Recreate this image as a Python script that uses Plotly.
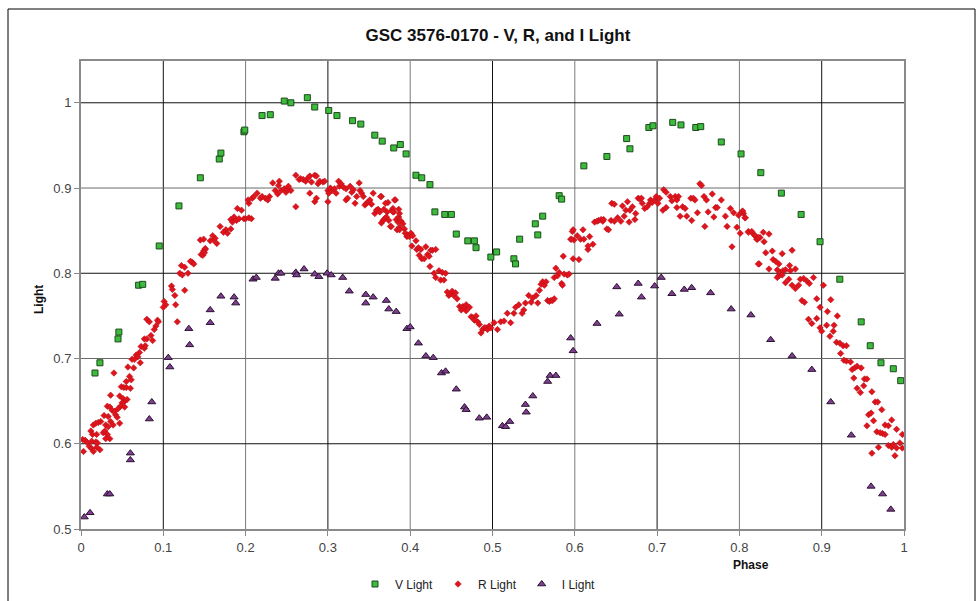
import plotly.graph_objects as go

# ---------------- data ----------------
v_phase = [0.017, 0.023, 0.045, 0.046, 0.070, 0.075, 0.095, 0.119, 0.145, 0.168, 0.170, 0.198, 0.199,
           0.220, 0.230, 0.247, 0.255, 0.275, 0.284, 0.301, 0.311, 0.330, 0.340, 0.357, 0.366, 0.380,
           0.388, 0.395, 0.407, 0.414, 0.424, 0.430, 0.442, 0.450, 0.456, 0.470, 0.478, 0.480, 0.498,
           0.505, 0.526, 0.528, 0.533, 0.552, 0.555, 0.561, 0.581, 0.584, 0.611, 0.639, 0.663, 0.667,
           0.690, 0.695, 0.719, 0.729, 0.747, 0.753, 0.778, 0.802, 0.826, 0.851, 0.875, 0.898, 0.922,
           0.948, 0.959, 0.972, 0.987, 0.996]
v_light = [0.683, 0.695, 0.723, 0.731, 0.786, 0.787, 0.832, 0.879, 0.912, 0.934, 0.941, 0.966, 0.968,
           0.985, 0.986, 1.002, 1.000, 1.006, 0.995, 0.991, 0.985, 0.979, 0.975, 0.962, 0.955, 0.947,
           0.951, 0.940, 0.915, 0.912, 0.904, 0.872, 0.869, 0.869, 0.846, 0.838, 0.838, 0.830, 0.819,
           0.825, 0.817, 0.811, 0.840, 0.858, 0.845, 0.867, 0.891, 0.887, 0.926, 0.937, 0.958, 0.946,
           0.971, 0.973, 0.977, 0.974, 0.971, 0.972, 0.954, 0.940, 0.918, 0.894, 0.869, 0.837, 0.793,
           0.743, 0.715, 0.695, 0.688, 0.674]

r_phase = [
    0.149, 0.151, 0.146, 0.135, 0.133, 0.137, 0.122, 0.126, 0.120, 0.123, 0.130, 0.110, 0.111, 0.114,
    0.126, 0.101, 0.103, 0.100, 0.115, 0.117, 0.080, 0.083, 0.093, 0.094, 0.091, 0.089, 0.077, 0.080,
    0.085, 0.087, 0.073, 0.077, 0.078, 0.071, 0.067, 0.069, 0.062, 0.065, 0.072, 0.057, 0.064, 0.040,
    0.059, 0.055, 0.061, 0.049, 0.052, 0.055, 0.060, 0.036, 0.047, 0.051, 0.053, 0.056, 0.050, 0.048,
    0.053, 0.032, 0.035, 0.038, 0.041, 0.045, 0.042, 0.047, 0.044, 0.028, 0.033, 0.024, 0.021, 0.036,
    0.015, 0.018, 0.030, 0.033, 0.039, 0.012, 0.014, 0.019, 0.027, 0.029, 0.032, 0.035, 0.030, 0.002,
    0.005, 0.007, 0.013, 0.018, 0.020, 0.010, 0.013, 0.019, 0.023, 0.015, 0.003,
    0.145, 0.149, 0.151, 0.148, 0.150, 0.157, 0.161, 0.163, 0.160, 0.165, 0.169, 0.176, 0.173, 0.178,
    0.182, 0.182, 0.186, 0.184, 0.189, 0.192, 0.190, 0.195, 0.198, 0.200, 0.204, 0.207, 0.204, 0.203,
    0.208, 0.210, 0.214, 0.218, 0.220, 0.224, 0.229, 0.227, 0.233, 0.236, 0.239, 0.241, 0.240, 0.243,
    0.247, 0.249, 0.251, 0.252, 0.255, 0.261, 0.265, 0.267, 0.270, 0.273, 0.276, 0.278, 0.280, 0.284,
    0.286, 0.288, 0.290, 0.294, 0.296, 0.261, 0.278, 0.284, 0.286, 0.300, 0.301, 0.300, 0.303, 0.305,
    0.308, 0.310, 0.313, 0.314, 0.316, 0.319, 0.322, 0.322, 0.324, 0.327, 0.329, 0.331, 0.333, 0.335,
    0.338, 0.339, 0.341, 0.343, 0.345, 0.347, 0.349, 0.351, 0.353, 0.355, 0.357, 0.359, 0.361, 0.363,
    0.365, 0.365, 0.367, 0.369, 0.371, 0.373, 0.376, 0.378, 0.380, 0.382, 0.384, 0.386, 0.387,
    0.364, 0.368, 0.370, 0.372, 0.374, 0.377, 0.379, 0.381, 0.379, 0.383, 0.385, 0.386, 0.387, 0.387,
    0.389, 0.391, 0.393, 0.394, 0.396, 0.397, 0.399, 0.401, 0.402, 0.403, 0.407, 0.408, 0.410, 0.411,
    0.413, 0.414, 0.417, 0.419, 0.421, 0.423, 0.425, 0.427, 0.431, 0.424, 0.429, 0.431, 0.435, 0.437,
    0.439, 0.441, 0.443, 0.445, 0.447, 0.449, 0.451, 0.453, 0.455, 0.457, 0.460, 0.462, 0.464, 0.466,
    0.468, 0.468, 0.472, 0.474, 0.476, 0.478, 0.480, 0.482, 0.484, 0.486, 0.488, 0.490, 0.492, 0.494,
    0.496, 0.498, 0.502, 0.506, 0.510, 0.514, 0.518, 0.522, 0.526, 0.528, 0.532, 0.536, 0.538, 0.540,
    0.544, 0.547, 0.549, 0.553, 0.555, 0.557, 0.559, 0.561, 0.563, 0.565, 0.567, 0.569, 0.571, 0.573,
    0.575, 0.575, 0.577, 0.579, 0.581, 0.584, 0.587, 0.591, 0.593, 0.586, 0.595, 0.597, 0.599, 0.598,
    0.585, 0.596, 0.598, 0.603, 0.605, 0.607, 0.610, 0.611, 0.616, 0.616, 0.618, 0.622, 0.624, 0.627,
    0.629, 0.632, 0.634, 0.635, 0.639, 0.641, 0.644, 0.645, 0.648, 0.648, 0.652, 0.656, 0.658, 0.660,
    0.662, 0.664, 0.666, 0.667, 0.670, 0.673, 0.674, 0.677, 0.679, 0.681, 0.682, 0.685, 0.688, 0.691,
    0.692, 0.694, 0.697, 0.699, 0.701, 0.703, 0.707, 0.708, 0.711, 0.711, 0.716, 0.718, 0.722, 0.724,
    0.724, 0.726, 0.728, 0.731, 0.734, 0.736, 0.741, 0.742, 0.744, 0.746, 0.749, 0.752, 0.754, 0.757,
    0.758, 0.760, 0.762, 0.767, 0.769, 0.771, 0.773, 0.778, 0.783, 0.785, 0.789, 0.791, 0.793, 0.797,
    0.799, 0.801, 0.803, 0.805, 0.807, 0.811, 0.816, 0.820, 0.822, 0.824, 0.825,
    0.804, 0.807, 0.811, 0.815, 0.819, 0.821, 0.823, 0.829, 0.830, 0.836, 0.832, 0.840, 0.841, 0.844,
    0.848, 0.852, 0.864, 0.823, 0.836, 0.846, 0.848, 0.850, 0.853, 0.856, 0.861, 0.862, 0.868, 0.846,
    0.852, 0.856, 0.860, 0.864, 0.868, 0.872, 0.874, 0.878, 0.882, 0.885, 0.890, 0.902, 0.876, 0.879,
    0.894, 0.898, 0.911, 0.884, 0.888, 0.894, 0.898, 0.900, 0.907, 0.906, 0.915, 0.914, 0.919, 0.910,
    0.918, 0.922, 0.926, 0.930, 0.923, 0.927, 0.930, 0.935, 0.937, 0.940, 0.943, 0.948, 0.939, 0.952,
    0.955, 0.943, 0.951, 0.961, 0.947, 0.965, 0.968, 0.973, 0.957, 0.960, 0.963, 0.977, 0.981, 0.985,
    0.991, 0.955, 0.967, 0.971, 0.974, 0.977, 0.998, 0.995, 0.981, 0.985, 0.987, 0.991, 0.969, 0.961,
    0.989, 0.998]
r_light = [
    0.826, 0.829, 0.822, 0.813, 0.814, 0.811, 0.809, 0.807, 0.800, 0.798, 0.800, 0.785, 0.781, 0.774,
    0.780, 0.767, 0.763, 0.760, 0.763, 0.743, 0.746, 0.743, 0.745, 0.743, 0.738, 0.734, 0.723, 0.723,
    0.727, 0.721, 0.714, 0.712, 0.715, 0.707, 0.704, 0.702, 0.699, 0.699, 0.695, 0.690, 0.689, 0.683,
    0.679, 0.673, 0.675, 0.667, 0.666, 0.666, 0.665, 0.657, 0.656, 0.653, 0.650, 0.652, 0.648, 0.644,
    0.643, 0.644, 0.643, 0.639, 0.638, 0.641, 0.634, 0.624, 0.631, 0.633, 0.632, 0.626, 0.625, 0.626,
    0.622, 0.624, 0.622, 0.620, 0.622, 0.615, 0.611, 0.611, 0.613, 0.615, 0.611, 0.606, 0.606, 0.605,
    0.604, 0.602, 0.603, 0.602, 0.601, 0.597, 0.594, 0.596, 0.593, 0.591, 0.591,
    0.839, 0.840, 0.828, 0.821, 0.824, 0.838, 0.839, 0.841, 0.844, 0.835, 0.855, 0.851, 0.848, 0.847,
    0.852, 0.863, 0.866, 0.860, 0.862, 0.864, 0.876, 0.874, 0.864, 0.864, 0.865, 0.864, 0.882, 0.886,
    0.888, 0.890, 0.894, 0.888, 0.890, 0.888, 0.890, 0.886, 0.906, 0.897, 0.893, 0.908, 0.903, 0.897,
    0.899, 0.895, 0.898, 0.902, 0.897, 0.915, 0.910, 0.911, 0.910, 0.908, 0.912, 0.914, 0.907, 0.915,
    0.914, 0.905, 0.908, 0.907, 0.908, 0.878, 0.894, 0.884, 0.888, 0.897, 0.894, 0.884, 0.900, 0.897,
    0.899, 0.894, 0.908, 0.902, 0.905, 0.901, 0.899, 0.886, 0.888, 0.902, 0.895, 0.898, 0.882, 0.890,
    0.906, 0.897, 0.894, 0.890, 0.880, 0.882, 0.884, 0.886, 0.881, 0.894, 0.870, 0.874, 0.875, 0.872,
    0.890, 0.859, 0.862, 0.864, 0.866, 0.883, 0.855, 0.874, 0.872, 0.886, 0.851, 0.866, 0.870,
    0.890, 0.875, 0.882, 0.872, 0.862, 0.855, 0.876, 0.886, 0.872, 0.863, 0.860, 0.875, 0.854, 0.851,
    0.861, 0.858, 0.852, 0.847, 0.843, 0.845, 0.843, 0.847, 0.832, 0.844, 0.838, 0.828, 0.830, 0.821,
    0.828, 0.817, 0.817, 0.831, 0.822, 0.820, 0.827, 0.827, 0.828, 0.808, 0.800, 0.795, 0.803, 0.792,
    0.801, 0.792, 0.800, 0.778, 0.774, 0.776, 0.779, 0.774, 0.777, 0.770, 0.761, 0.757, 0.761, 0.759,
    0.756, 0.763, 0.760, 0.749, 0.748, 0.745, 0.750, 0.743, 0.740, 0.730, 0.734, 0.736, 0.736, 0.734,
    0.738, 0.736, 0.742, 0.734, 0.743, 0.744, 0.753, 0.742, 0.753, 0.760, 0.763, 0.753, 0.757, 0.765,
    0.774, 0.766, 0.771, 0.774, 0.765, 0.780, 0.787, 0.790, 0.786, 0.790, 0.768, 0.767, 0.768, 0.768,
    0.770, 0.795, 0.806, 0.797, 0.801, 0.788, 0.799, 0.798, 0.799, 0.820, 0.840, 0.849, 0.839, 0.817,
    0.786, 0.840, 0.851, 0.844, 0.816, 0.840, 0.851, 0.840, 0.828, 0.832, 0.843, 0.834, 0.860, 0.861,
    0.862, 0.863, 0.861, 0.863, 0.852, 0.851, 0.862, 0.882, 0.881, 0.861, 0.865, 0.861, 0.879, 0.867,
    0.874, 0.884, 0.860, 0.874, 0.878, 0.863, 0.870, 0.888, 0.887, 0.888, 0.882, 0.876, 0.878, 0.882,
    0.886, 0.883, 0.886, 0.890, 0.882, 0.888, 0.874, 0.898, 0.895, 0.877, 0.890, 0.885, 0.890, 0.886,
    0.877, 0.890, 0.867, 0.878, 0.876, 0.867, 0.888, 0.862, 0.888, 0.886, 0.871, 0.905, 0.903, 0.890,
    0.855, 0.886, 0.872, 0.893, 0.866, 0.877, 0.877, 0.886, 0.867, 0.855, 0.876, 0.831, 0.871, 0.854,
    0.868, 0.847, 0.872, 0.870, 0.865, 0.849, 0.847, 0.843, 0.840, 0.811, 0.842,
    0.873, 0.865, 0.848, 0.849, 0.844, 0.840, 0.842, 0.848, 0.837, 0.846, 0.824, 0.826, 0.816, 0.814,
    0.811, 0.823, 0.827, 0.811, 0.805, 0.804, 0.797, 0.801, 0.803, 0.804, 0.809, 0.803, 0.805, 0.795,
    0.798, 0.789, 0.793, 0.786, 0.782, 0.786, 0.793, 0.794, 0.791, 0.788, 0.795, 0.786, 0.768, 0.766,
    0.770, 0.760, 0.769, 0.746, 0.741, 0.747, 0.736, 0.732, 0.755, 0.739, 0.739, 0.732, 0.750, 0.726,
    0.719, 0.718, 0.715, 0.715, 0.706, 0.698, 0.697, 0.696, 0.687, 0.689, 0.691, 0.689, 0.677, 0.676,
    0.676, 0.665, 0.668, 0.661, 0.660, 0.649, 0.649, 0.640, 0.634, 0.636, 0.627, 0.622, 0.621, 0.628,
    0.617, 0.621, 0.614, 0.613, 0.612, 0.611, 0.611, 0.601, 0.598, 0.596, 0.599, 0.595, 0.596, 0.589,
    0.586, 0.595]

i_phase = [0.004, 0.011, 0.032, 0.035, 0.060, 0.060, 0.083, 0.086, 0.106, 0.108, 0.131, 0.132, 0.157,
           0.157, 0.170, 0.186, 0.188, 0.209, 0.213, 0.236, 0.240, 0.243, 0.261, 0.262, 0.271, 0.284,
           0.289, 0.299, 0.304, 0.318, 0.326, 0.346, 0.346, 0.355, 0.371, 0.374, 0.383, 0.396, 0.400,
           0.410, 0.419, 0.428, 0.438, 0.443, 0.456, 0.466, 0.468, 0.484, 0.493, 0.512, 0.516, 0.521,
           0.540, 0.541, 0.549, 0.567, 0.570, 0.577, 0.595, 0.598, 0.627, 0.651, 0.654, 0.677, 0.681,
           0.697, 0.705, 0.718, 0.733, 0.742, 0.765, 0.790, 0.814, 0.838, 0.864, 0.888, 0.911, 0.936,
           0.960, 0.974, 0.984]
i_light = [0.514, 0.519, 0.541, 0.541, 0.589, 0.581, 0.629, 0.649, 0.701, 0.690, 0.735, 0.716, 0.742,
           0.757, 0.773, 0.772, 0.765, 0.793, 0.795, 0.794, 0.800, 0.800, 0.801, 0.798, 0.805, 0.799,
           0.796, 0.800, 0.798, 0.795, 0.779, 0.775, 0.765, 0.772, 0.768, 0.758, 0.755, 0.735, 0.737,
           0.718, 0.703, 0.701, 0.683, 0.685, 0.664, 0.643, 0.640, 0.630, 0.631, 0.621, 0.620, 0.626,
           0.646, 0.637, 0.656, 0.673, 0.680, 0.680, 0.724, 0.709, 0.741, 0.784, 0.752, 0.788, 0.772,
           0.785, 0.795, 0.776, 0.781, 0.783, 0.777, 0.758, 0.751, 0.722, 0.703, 0.687, 0.649, 0.610,
           0.550, 0.541, 0.523]

x_ticks = [0, 0.1, 0.2, 0.3, 0.4, 0.5, 0.6, 0.7, 0.8, 0.9, 1]
y_ticks = [0.5, 0.6, 0.7, 0.8, 0.9, 1]

# ---------------- figure ----------------
FONT = "Liberation Sans, Arial, sans-serif"
W, H = 978, 601
L, R, T, B = 81, 74, 61, 72
PW, PH = W - L - R, H - T - B

def px_x(px):
    return (px - L) / PW

def px_y(py):
    return (H - B - py) / PH

fig = go.Figure()
fig.add_trace(go.Scatter(
    x=v_phase, y=v_light, mode="markers", name="V Light",
    marker=dict(symbol="square", size=6, color="#3dbb3d",
                line=dict(color="#1c4a1c", width=1))))
fig.add_trace(go.Scatter(
    x=r_phase, y=r_light, mode="markers", name="R Light",
    marker=dict(symbol="diamond", size=5, color="#e0141c",
                line=dict(color="#b0101a", width=0.5))))
fig.add_trace(go.Scatter(
    x=i_phase, y=i_light, mode="markers", name="I Light",
    marker=dict(symbol="triangle-up", size=7, color="#7d3f8e",
                line=dict(color="#2a1030", width=1))))

axis_common = dict(showgrid=False, zeroline=False, automargin=False,
                   showline=True, linecolor="#8a8a8a", linewidth=2, mirror=True,
                   ticks="outside", ticklen=5, tickcolor="#8a8a8a",
                   tickfont=dict(family=FONT, size=13, color="#444444"))

fig.update_layout(
    width=W, height=H,
    margin=dict(l=L, r=R, t=T, b=B),
    paper_bgcolor="white", plot_bgcolor="white",
    font=dict(family=FONT, size=12, color="#333333"),
    title=dict(text="<b>GSC 3576-0170 - V, R, and I Light</b>",
               x=498 / W, xanchor="center", xref="container",
               y=1 - 35 / H, yanchor="middle", yref="container",
               font=dict(family=FONT, size=17, color="#111111")),
    showlegend=True,
    legend=dict(orientation="h", x=478 / W, xanchor="center", xref="container",
                y=1 - 584 / H, yanchor="middle", yref="container",
                font=dict(family=FONT, size=12, color="#222222"),
                itemwidth=30, tracegroupgap=0, bgcolor="rgba(0,0,0,0)"),
    xaxis=dict(range=[0, 1], tickvals=x_ticks, ticktext=[str(t) for t in x_ticks], **axis_common),
    yaxis=dict(range=[0.5, 1.049], tickvals=y_ticks, ticktext=[str(t) for t in y_ticks], **axis_common),
)

# gridlines (alternating dark / mid grey as in the reference)
for i, t in enumerate(x_ticks[1:-1]):
    fig.add_shape(type="line", xref="x", yref="paper", x0=t, x1=t, y0=0, y1=1,
                  line=dict(color="#111111" if i % 2 == 0 else "#7a7a7a", width=1), layer="below")
for i, t in enumerate(y_ticks[1:]):
    fig.add_shape(type="line", xref="paper", yref="y", x0=0, x1=1, y0=t, y1=t,
                  line=dict(color="#111111" if i % 2 == 0 else "#6a6a6a", width=1), layer="below")

fig.add_annotation(text="<b>Light</b>", xref="paper", yref="paper",
                   x=px_x(30), y=px_y(300), textangle=-90,
                   showarrow=False, font=dict(family=FONT, size=12, color="#111111"))
fig.add_annotation(text="<b>Phase</b>", xref="paper", yref="paper",
                   x=px_x(771), y=px_y(574),
                   showarrow=False, font=dict(family=FONT, size=12, color="#111111"))

# outer chart frame
fig.add_shape(type="rect", xref="paper", yref="paper",
              x0=px_x(8), x1=px_x(975), y0=px_y(640), y1=px_y(9),
              line=dict(color="black", width=1), layer="below")

fig.write_html("out.html", config={"displayModeBar": False},
               post_script="document.body.style.margin='0';document.body.style.overflow='hidden';")
